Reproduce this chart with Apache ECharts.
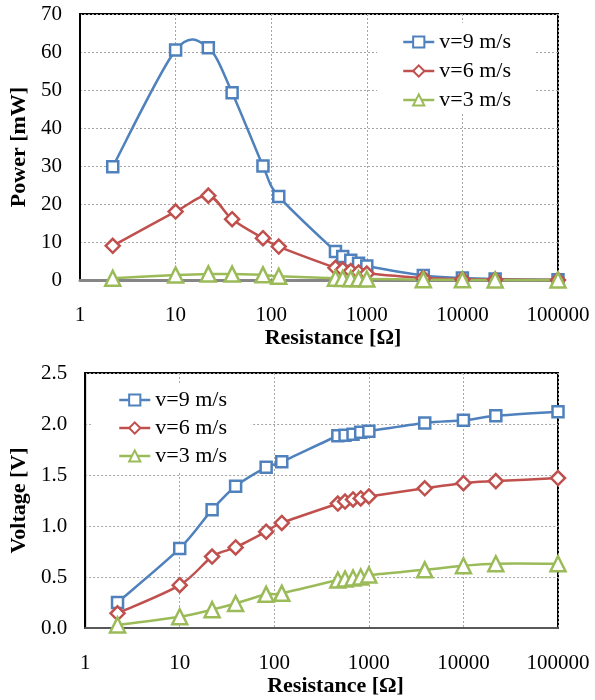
<!DOCTYPE html>
<html>
<head>
<meta charset="utf-8">
<script src="https://cdn.jsdelivr.net/npm/echarts@6/dist/echarts.min.js"></script>
<style>
html,body{margin:0;padding:0;background:#fff;}
#c{width:595px;height:700px;}
</style>
</head>
<body>
<div id="c"></div>
<script>
const resistance = [2.2, 10, 22, 39, 82, 120, 470, 560, 680, 820, 1000, 3900, 10000, 22000, 100000];
const seriesNames = ['v=9 m/s', 'v=6 m/s', 'v=3 m/s'];
const power9 = [29.8, 60.5, 61.1, 49.3, 30.0, 22.0, 7.5, 6.2, 5.2, 4.4, 3.7, 1.2, 0.5, 0.25, 0.06];
const power6 = [9.0, 18.0, 22.2, 16.0, 11.0, 8.8, 3.2, 2.75, 2.35, 2.0, 1.7, 0.5, 0.2, 0.1, 0.03];
const power3 = [0.45, 1.3, 1.6, 1.55, 1.35, 1.0, 0.47, 0.41, 0.35, 0.3, 0.27, 0.09, 0.04, 0.02, 0.005];
const voltage9 = [0.25, 0.78, 1.16, 1.39, 1.575, 1.63, 1.885, 1.89, 1.90, 1.92, 1.93, 2.01, 2.036, 2.08, 2.12];
const voltage6 = [0.144, 0.42, 0.70, 0.79, 0.944, 1.03, 1.22, 1.24, 1.26, 1.27, 1.29, 1.37, 1.42, 1.44, 1.47];
const voltage3 = [0.03, 0.11, 0.18, 0.24, 0.33, 0.34, 0.47, 0.48, 0.49, 0.50, 0.52, 0.57, 0.61, 0.63, 0.63];
const xTickLabels = ['1', '10', '100', '1000', '10000', '100000'];

const colors = ['#4F81BD', '#C0504D', '#9BBB59'];
const symbols = ['rect', 'diamond', 'triangle'];
const symSizes = [11, 14, 15];
const FONT = '"Liberation Serif", "Times New Roman", serif';

// Excel-like smoothed curve (Catmull-Rom style) through the data, positioned by the axes
function curve(vals, i, axisIdx) {
  return {
    name: 'curve' + axisIdx + '_' + i, type: 'custom', coordinateSystem: 'cartesian2d',
    xAxisIndex: axisIdx, yAxisIndex: axisIdx, silent: true, z: 1,
    data: resistance.map((r, k) => [r, vals[k]]),
    renderItem: function (params, api) {
      if (params.dataIndex !== 0) return null;
      const p = resistance.map((r, k) => api.coord([r, vals[k]]));
      const n = p.length, children = [];
      for (let k = 0; k < n - 1; k++) {
        const a = p[k - 1] || p[k], b = p[k], c = p[k + 1], d = p[k + 2] || p[k + 1];
        children.push({
          type: 'bezierCurve',
          shape: {x1: b[0], y1: b[1], x2: c[0], y2: c[1],
                  cpx1: b[0] + (c[0] - a[0]) / 6.5, cpy1: b[1] + (c[1] - a[1]) / 6.5,
                  cpx2: c[0] - (d[0] - b[0]) / 6.5, cpy2: c[1] - (d[1] - b[1]) / 6.5},
          style: {stroke: colors[i], lineWidth: 2.5, fill: 'none'}
        });
      }
      return {type: 'group', children: children};
    },
    animation: false
  };
}

function mk(name, vals, i, axisIdx) {
  return {
    name: name, type: 'line', xAxisIndex: axisIdx, yAxisIndex: axisIdx, z: 3,
    data: resistance.map((r, k) => [r, vals[k]]),
    symbol: symbols[i], symbolSize: symSizes[i],
    lineStyle: {color: colors[i], width: 2.5, opacity: 0},
    itemStyle: {color: '#fff', borderColor: colors[i], borderWidth: 2.5},
    emphasis: {disabled: true}, animation: false
  };
}

function xAx(gi, lineColor, lineW) {
  return {
    type: 'log', logBase: 10, gridIndex: gi, min: 1, max: 100000,
    name: 'Resistance [Ω]', nameLocation: 'middle', nameGap: 47,
    nameTextStyle: {fontFamily: FONT, fontWeight: 'bold', fontSize: 22, color: '#000', padding: [0, 0, 0, 28]},
    axisLine: {show: true, lineStyle: {color: lineColor, width: lineW}},
    axisTick: {show: false},
    axisLabel: {fontFamily: FONT, fontSize: 21, color: '#000', margin: 25,
      formatter: v => { const e = Math.round(Math.log10(v)); return xTickLabels[e] !== undefined ? xTickLabels[e] : ''; }},
    splitLine: {show: true, lineStyle: {color: '#a6a6a6', type: [2, 2], width: 1}}
  };
}
function yAx(gi, name, min, max, interval, fmt) {
  return {
    type: 'value', gridIndex: gi, min: min, max: max, interval: interval,
    name: name, nameLocation: 'middle', nameGap: 49, nameRotate: 90,
    nameTextStyle: {fontFamily: FONT, fontWeight: 'bold', fontSize: 22, color: '#000'},
    axisLine: {show: true, lineStyle: {color: '#000', width: 2}},
    axisTick: {show: false},
    axisLabel: {fontFamily: FONT, fontSize: 21, color: '#000', margin: 18, formatter: fmt},
    splitLine: {show: true, lineStyle: {color: '#a6a6a6', type: [2, 2], width: 1}}
  };
}

const legendCommon = {
  orient: 'vertical', itemWidth: 31, itemHeight: 14, backgroundColor: '#fff',
  textStyle: {fontFamily: FONT, fontSize: 22, color: '#000'}, selectedMode: false,
  lineStyle: {opacity: 1, width: 2.5}
};

const chart = echarts.init(document.getElementById('c'), null, {renderer: 'canvas'});
chart.setOption({
  animation: false,
  backgroundColor: '#fff',
  grid: [
    {left: 80, right: 37, top: 14, bottom: 420, show: true, borderColor: '#000', borderWidth: 2, backgroundColor: 'transparent'},
    {left: 80, right: 37, top: 373, bottom: 72, show: true, borderColor: '#000', borderWidth: 2, backgroundColor: 'transparent'}
  ],
  legend: [
    Object.assign({}, legendCommon, {data: seriesNames, left: 377, top: 23, padding: [8, 24, 3, 25], itemGap: 7}),
    Object.assign({}, legendCommon, {data: seriesNames.map(n => n + ' '), left: 91, top: 383, padding: [6, 24, 4, 27], itemGap: 6,
      formatter: n => n.trim()})
  ],
  xAxis: [xAx(0, '#868686', 3), xAx(1, '#595959', 2)],
  yAxis: [
    yAx(0, 'Power [mW]', 0, 70, 10, v => String(v)),
    yAx(1, 'Voltage [V]', 0, 2.5, 0.5, v => v.toFixed(1))
  ],
  series: [
    curve(power9, 0, 0), curve(power6, 1, 0), curve(power3, 2, 0),
    curve(voltage9, 0, 1), curve(voltage6, 1, 1), curve(voltage3, 2, 1),
    mk(seriesNames[0], power9, 0, 0),
    mk(seriesNames[1], power6, 1, 0),
    mk(seriesNames[2], power3, 2, 0),
    mk(seriesNames[0] + ' ', voltage9, 0, 1),
    mk(seriesNames[1] + ' ', voltage6, 1, 1),
    mk(seriesNames[2] + ' ', voltage3, 2, 1)
  ]
});
</script>
</body>
</html>
